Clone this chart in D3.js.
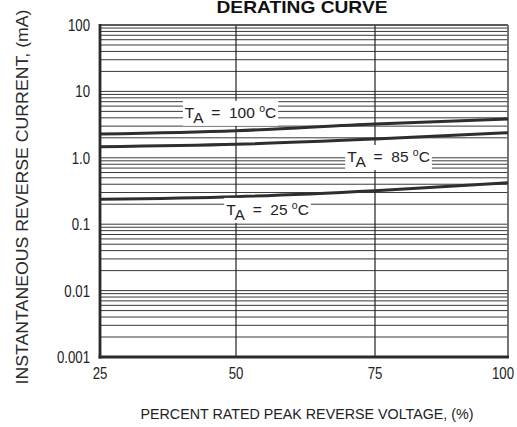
<!DOCTYPE html>
<html><head><meta charset="utf-8">
<script src="https://cdn.jsdelivr.net/npm/d3@7"></script>
<style>
html,body{margin:0;padding:0;background:#fff;}
svg{display:block;font-family:"Liberation Sans",Arial,sans-serif;}
</style></head>
<body>
<svg id="c" width="517" height="427"></svg>
<script>
// ---- data ----
const title = "DERATING CURVE";
const xLabel = "PERCENT RATED PEAK REVERSE VOLTAGE, (%)";
const yLabel = "INSTANTANEOUS REVERSE CURRENT, (mA)";
const xTicks = [25, 50, 75, 100];
const yTicks = [100, 10, 1, 0.1, 0.01, 0.001];
const yTickLabels = ["100", "10", "1.0", "0.1", "0.01", "0.001"];
const voltagePct = [25, 50, 75, 100];
const current100C = [2.28, 2.56, 3.23, 3.84];
const current85C = [1.47, 1.60, 1.92, 2.39];
const current25C = [0.237, 0.26, 0.32, 0.42];
const labelTemps = ["100", "85", "25"];
const labelAtPct = [40.6, 70, 48.2];
const labelAtCurrent = [4.0, 0.865, 0.138];

// ---- layout ----
const L = 100, R = 508, T = 25, B = 357;
const svg = d3.select("#c");
const x = d3.scaleLinear().domain([25, 50, 75, 100]).range([L, 236, 375, R]);
const y = d3.scaleLog().domain([0.001, 100]).range([B, T]);

function condense(sel, f) {
  sel.each(function () {
    const w = this.getComputedTextLength();
    d3.select(this).attr("textLength", w * f).attr("lengthAdjust", "spacingAndGlyphs");
  });
}

// horizontal log grid (minor + major)
const gridVals = [];
for (let e = -3; e < 2; e++) for (let m = 1; m <= 9; m++) gridVals.push(m * Math.pow(10, e));
gridVals.push(100);
svg.append("g").selectAll("line").data(gridVals).join("line")
  .attr("x1", L).attr("x2", R)
  .attr("y1", d => y(d)).attr("y2", d => y(d))
  .attr("stroke", "#3a3a3a").attr("stroke-width", 1);

// vertical grid
svg.append("g").selectAll("line").data(xTicks.slice(1, -1)).join("line")
  .attr("x1", d => x(d)).attr("x2", d => x(d))
  .attr("y1", T).attr("y2", B)
  .attr("stroke", "#222").attr("stroke-width", 1.2);

// frame
svg.append("line").attr("x1", L).attr("x2", R).attr("y1", T).attr("y2", T).attr("stroke", "#444").attr("stroke-width", 1.5);
svg.append("line").attr("x1", R).attr("x2", R).attr("y1", T).attr("y2", B).attr("stroke", "#666").attr("stroke-width", 1.8);

// curves
const series = [current100C, current85C, current25C];
const line = d3.line().x((d, i) => x(voltagePct[i])).y(d => y(d)).curve(d3.curveMonotoneX);
svg.append("g").selectAll("path").data(series).join("path")
  .attr("d", d => line(d)).attr("fill", "none")
  .attr("stroke", "#2e2e2e").attr("stroke-width", 3);

// labels with white boxes
labelTemps.forEach((t, i) => {
  const g = svg.append("g");
  const txt = g.append("text")
    .attr("x", x(labelAtPct[i])).attr("y", y(labelAtCurrent[i]))
    .attr("font-size", 15.5).attr("fill", "#222")
    .style("white-space", "pre");
  txt.append("tspan").text("T");
  txt.append("tspan").attr("dy", 5).text("A");
  txt.append("tspan").attr("dy", -5).text("  =  " + t + " ");
  txt.append("tspan").attr("dy", -6).attr("font-size", 10.5).text("o");
  txt.append("tspan").attr("dy", 6).text("C");
  const bb = txt.node().getBBox();
  g.insert("rect", "text")
    .attr("x", bb.x - 2).attr("y", bb.y - 1)
    .attr("width", bb.width + 4).attr("height", bb.height + 1)
    .attr("fill", "#fff");
});

// axis lines (thick left & bottom)
svg.append("line").attr("x1", L).attr("x2", L).attr("y1", T - 1).attr("y2", B + 1.5).attr("stroke", "#2a2a2a").attr("stroke-width", 2.8);
svg.append("line").attr("x1", L - 1.4).attr("x2", R + 1).attr("y1", B).attr("y2", B).attr("stroke", "#2a2a2a").attr("stroke-width", 2.8);

// y tick labels
svg.append("g").selectAll("text").data(yTicks).join("text")
  .attr("x", 90).attr("y", d => y(d) + 6)
  .attr("text-anchor", "end").attr("font-size", 16.5).attr("fill", "#222")
  .text((d, i) => yTickLabels[i])
  .call(condense, 0.8);

// x tick labels
svg.append("g").selectAll("text").data(xTicks).join("text")
  .attr("x", d => d === 100 ? 514 : x(d)).attr("y", 379)
  .attr("text-anchor", d => d === 100 ? "end" : "middle")
  .attr("font-size", 16.5).attr("fill", "#222")
  .text(d => d)
  .call(condense, 0.8);

// axis titles
svg.append("text").attr("x", 307).attr("y", 419)
  .attr("text-anchor", "middle").attr("font-size", 14).attr("fill", "#222")
  .attr("textLength", 333).attr("lengthAdjust", "spacingAndGlyphs")
  .text(xLabel);
svg.append("text").attr("transform", "translate(28,197) rotate(-90)")
  .attr("text-anchor", "middle").attr("font-size", 16).attr("fill", "#2a2a2a")
  .attr("textLength", 375).attr("lengthAdjust", "spacingAndGlyphs")
  .text(yLabel);

// title
svg.append("text").attr("x", 302).attr("y", 13)
  .attr("text-anchor", "middle").attr("font-size", 17).attr("font-weight", "bold").attr("fill", "#111")
  .attr("textLength", 171).attr("lengthAdjust", "spacingAndGlyphs")
  .text(title);
</script>
</body></html>
